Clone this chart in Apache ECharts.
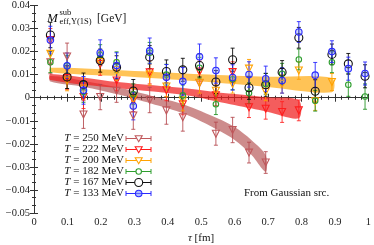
<!DOCTYPE html>
<html><head><meta charset="utf-8">
<script src="https://cdn.jsdelivr.net/npm/echarts@6/dist/echarts.min.js"></script>
<style>html,body{margin:0;padding:0;background:#fff}#c{width:374px;height:245px}</style>
</head><body><div id="c"></div>
<script>
// Euclidean time tau [fm]
const tau = [0.049,0.099,0.148,0.198,0.247,0.297,0.346,0.396,0.445,0.495,0.544,0.594,0.643,0.693,0.742,0.792,0.841,0.891,0.940,0.990];
// M_eff^sub values [GeV] per temperature
const m250 = [0.0154,0.0179,-0.0073,0.0003,0.0030,-0.0077,-0.0010,-0.0055,-0.0085,0.0063,-0.0156,-0.0140,-0.0238,-0.0281];
const e250 = [0.0050,0.0058,0.0060,0.0055,0.0050,0.0060,0.0055,0.0060,0.0060,0.0055,0.0050,0.0055,0.0045,0.0047];
const m222 = [0.0250,0.0085,0.0003,0.0147,0.0075,-0.0010,0.0110,0.0032,-0.0029,0.0114,0.0010,0.0111,-0.0041,-0.0048,-0.0062,-0.0055];
const e222 = [0.0050,0.0050,0.0050,0.0050,0.0045,0.0050,0.0050,0.0045,0.0045,0.0045,0.0045,0.0045,0.0045,0.0045,0.0045,0.0045];
const m200 = [0.0190,0.0075,0.0040,0.0155,0.0120,-0.0005,0.0100,0.0049,-0.0012,0.0065,0.0030,0.0060,0.0126,0.0027,0.0060,0.0118,-0.0015,0.0068];
const e200 = [0.0045,0.0045,0.0045,0.0045,0.0045,0.0045,0.0045,0.0045,0.0045,0.0045,0.0040,0.0040,0.0040,0.0040,0.0040,0.0038,0.0040,0.0037];
const m182 = [0.0154,0.0139,0.0025,0.0185,0.0154,0.0015,0.0195,0.0100,0.0010,0.0130,-0.0028,0.0080,0.0020,0.0060,0.0104,0.0166,-0.0013,0.0154,0.0056,0.0005];
const e182 = [0.0045,0.0045,0.0045,0.0045,0.0045,0.0045,0.0045,0.0045,0.0045,0.0045,0.0045,0.0045,0.0045,0.0045,0.0045,0.0045,0.0045,0.0045,0.0050,0.0055];
const m167 = [0.0272,0.0090,0.0057,0.0161,0.0132,0.0029,0.0176,0.0114,0.0121,0.0140,0.0068,0.0165,0.0043,0.0056,0.0111,0.0260,0.0028,0.0188,0.0147,0.0093];
const e167 = [0.0055,0.0050,0.0050,0.0050,0.0050,0.0050,0.0050,0.0050,0.0050,0.0050,0.0050,0.0050,0.0050,0.0050,0.0050,0.0045,0.0050,0.0045,0.0045,0.0050];
const m133 = [0.0250,0.0139,0.0032,0.0195,0.0140,-0.0036,0.0203,0.0089,0.0071,0.0178,0.0118,0.0088,0.0101,0.0082,0.0075,0.0285,0.0098,0.0200,0.0126,0.0105];
const e133 = [0.0060,0.0055,0.0060,0.0056,0.0055,0.0060,0.0056,0.0055,0.0060,0.0055,0.0055,0.0055,0.0055,0.0055,0.0055,0.0045,0.0055,0.0047,0.0050,0.0050];
// fit bands: tau, centre, half width
const b200t = [0.049,0.30,0.50,0.70,0.891];
const b200c = [0.0120,0.0103,0.0086,0.0069,0.0055];
const b200w = [0.0010,0.0013,0.0016,0.0022,0.0031];
const b222t = [0.049,0.25,0.465,0.55,0.649,0.70,0.792];
const b222c = [0.0090,0.0055,0.0024,0.0003,-0.0018,-0.0030,-0.0050];
const b222w = [0.0013,0.0013,0.0015,0.0020,0.0028,0.0032,0.0039];
const b250t = [0.049,0.15,0.25,0.35,0.45,0.55,0.60,0.65,0.693];
const b250c = [0.0082,0.0060,0.0030,-0.0008,-0.0050,-0.0115,-0.0155,-0.0215,-0.0285];
const b250w = [0.0012,0.0013,0.0015,0.0017,0.0020,0.0025,0.0028,0.0032,0.0036];
const labels = ['250','222','200','182','167','133'];

const SERIF = 'Liberation Serif';
const cols = ['#c0585c','#ff1c1c','#ffa200','#2e9e2e','#111111','#2a2aff'];
const barCols = ['rgba(180,70,75,0.85)','rgba(255,30,30,0.85)','rgba(255,160,0,0.9)','rgba(40,150,40,0.9)','rgba(0,0,0,0.85)','rgba(40,40,255,0.9)'];
const sets = [[m250,e250],[m222,e222],[m200,e200],[m182,e182],[m167,e167],[m133,e133]];
const syms = ['triangle','triangle','triangle','circle','circle','circle'];
const symSize = [7,7,7,5.5,8,6.5];

const chart = echarts.init(document.getElementById('c'));
function bandSeries(t,c,w,fill){
  return {type:'custom', z:1, silent:true, data:[[0]],
    renderItem:function(p,api){
      const pts=[];
      for(let i=0;i<t.length;i++) pts.push(api.coord([t[i],c[i]+w[i]]));
      for(let i=t.length-1;i>=0;i--) pts.push(api.coord([t[i],c[i]-w[i]]));
      return {type:'polygon', shape:{points:pts, smooth:0.3}, style:{fill:fill}};
    }};
}
const series=[];
series.push(bandSeries(b250t,b250c,b250w,'rgba(175,70,70,0.62)'));
series.push(bandSeries(b222t,b222c,b222w,'rgba(240,30,30,0.72)'));
series.push(bandSeries(b200t,b200c,b200w,'rgba(255,175,30,0.75)'));
sets.forEach((s,k)=>{
  const data = s[0].map((v,i)=>[tau[i],v,s[1][i]]);
  series.push({type:'custom', z:2+k, silent:true, data:data,
    renderItem:function(p,api){
      const x=api.value(0), y=api.value(1), e=api.value(2);
      const a=api.coord([x,y+e]), b=api.coord([x,y-e]);
      const st={stroke:barCols[k], lineWidth:1};
      return {type:'group', children:[
        {type:'line', shape:{x1:a[0],y1:a[1],x2:b[0],y2:b[1]}, style:st},
        {type:'line', shape:{x1:a[0]-2,y1:a[1],x2:a[0]+2,y2:a[1]}, style:st},
        {type:'line', shape:{x1:b[0]-2,y1:b[1],x2:b[0]+2,y2:b[1]}, style:st}
      ]};
    }});
  series.push({type:'scatter', z:10+k, silent:true, data:data.map(d=>[d[0],d[1]]),
    symbol:syms[k], symbolRotate:k<3?180:0, symbolSize:symSize[k],
    itemStyle:{color:k===5?'rgba(120,140,255,0.35)':'rgba(255,255,255,0)', borderColor:cols[k], borderWidth:1.1, opacity:1}});
});

const graphic=[];
labels.forEach((l,k)=>{
  const y=138.5+k*11;
  graphic.push({type:'text', x:124, y:y, style:{text:'{i|T} = '+l+' MeV', align:'right', verticalAlign:'middle', font:'11px '+SERIF, fill:'#111',
    rich:{i:{fontStyle:'italic', fontFamily:SERIF, fontSize:11, fill:'#111'}}}});
  const st={stroke:cols[k], lineWidth:1};
  graphic.push({type:'line', shape:{x1:126,y1:y,x2:151,y2:y}, style:st});
  graphic.push({type:'line', shape:{x1:126,y1:y-2.5,x2:126,y2:y+2.5}, style:st});
  graphic.push({type:'line', shape:{x1:151,y1:y-2.5,x2:151,y2:y+2.5}, style:st});
  const mx=138.7;
  const fill = k===5?'rgba(120,140,255,0.6)':'#fff';
  if(k<3){
    graphic.push({type:'polygon', shape:{points:[[mx-3.5,y-2.8],[mx+3.5,y-2.8],[mx,y+3.2]]}, style:{fill:fill, stroke:cols[k], lineWidth:1.1}});
  } else {
    graphic.push({type:'circle', shape:{cx:mx,cy:y,r:symSize[k]/2}, style:{fill:fill, stroke:cols[k], lineWidth:1.1}});
  }
});
graphic.push({type:'text', x:47, y:12, style:{text:'M', font:'italic 13px '+SERIF, fill:'#111'}});
graphic.push({type:'text', x:59.5, y:8.5, style:{text:'sub', font:'8.5px '+SERIF, fill:'#111'}});
graphic.push({type:'text', x:59.5, y:17.5, style:{text:'eff,Υ(1S)', font:'8.5px '+SERIF, fill:'#111'}});
graphic.push({type:'text', x:97, y:12.5, style:{text:'[GeV]', font:'11.5px '+SERIF, fill:'#111'}});
graphic.push({type:'text', x:244, y:187.5, style:{text:'From Gaussian src.', font:'11px '+SERIF, fill:'#111'}});
graphic.push({type:'text', x:201, y:238, style:{text:'{i|τ} [fm]', align:'center', verticalAlign:'middle', font:'11px '+SERIF, fill:'#111',
    rich:{i:{fontStyle:'italic', fontFamily:SERIF, fontSize:11, fill:'#111'}}}});

const axBase = {axisLine:{show:true, lineStyle:{color:'#333', width:1}}, splitLine:{show:false},
  axisTick:{inside:true, length:4, lineStyle:{color:'#333'}}};
function fmtY(v){ if(Math.abs(v)<1e-9) return '0'; const s=Math.abs(v).toFixed(2); return v<0?'\u2212'+s:s; }
function fmtX(v){ if(Math.abs(v)<1e-9) return '0'; if(Math.abs(v-1)<1e-9) return '1'; return v.toFixed(1); }
const option = {
  animation:false,
  grid:{left:34, right:5, top:5, bottom:32},
  xAxis:[
    Object.assign({type:'value', min:0, max:1, interval:0.1, position:'bottom',
      axisLabel:{formatter:fmtX, fontFamily:SERIF, fontSize:10.5, color:'#222', margin:4},
      minorTick:{show:true, splitNumber:5, length:2, lineStyle:{color:'#333'}}}, axBase),
    Object.assign({type:'value', min:0, max:1, interval:0.1, position:'top', axisLabel:{show:false},
      minorTick:{show:true, splitNumber:5, length:2, lineStyle:{color:'#333'}}}, axBase)
  ],
  yAxis:[
    Object.assign({type:'value', min:-0.05, max:0.04, interval:0.01, position:'left',
      axisLabel:{formatter:fmtY, fontFamily:SERIF, fontSize:10.5, color:'#222', margin:4},
      minorTick:{show:true, splitNumber:3, length:2, lineStyle:{color:'#333'}}}, axBase),
    Object.assign({type:'value', min:-0.05, max:0.04, interval:0.01, position:'right', axisLabel:{show:false},
      minorTick:{show:true, splitNumber:3, length:2, lineStyle:{color:'#333'}}}, axBase)
  ],
  series:series,
  graphic:graphic
};
chart.setOption(option);
</script></body></html>
